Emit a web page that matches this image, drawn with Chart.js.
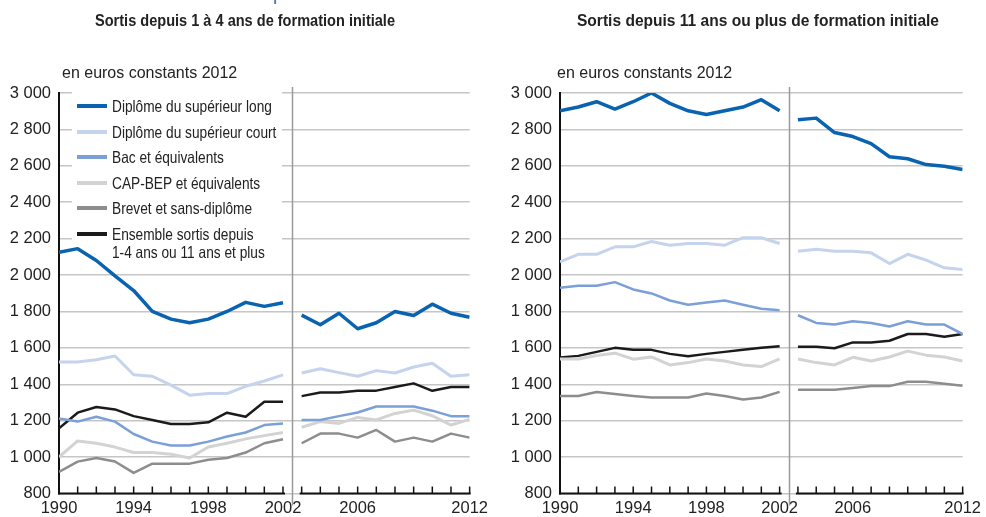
<!DOCTYPE html>
<html lang="fr">
<head>
<meta charset="UTF-8">
<title>Salaires selon le diplôme</title>
<script src="https://cdn.jsdelivr.net/npm/chart.js@4"></script>
<style>
    body {
        margin: 0;
        width: 986px;
        height: 517px;
        position: relative;
        overflow: hidden;
        background: #fff;
        font-family: "Liberation Sans", Arial, sans-serif;
        color: #222;
    }
    .panel { position: absolute; top: 0; width: 493px; height: 517px; }
    .cut-title {
        position: absolute; left: 0; top: 0; width: 322px; height: 8px;
        overflow: hidden;
    }
    .cut-title span {
        position: absolute; right: 0; top: -15px;
        font-size: 18px; line-height: 18px; white-space: nowrap; color: #1c6fb8;
    }
    .title {
        position: absolute; top: 12px; white-space: nowrap;
        font-weight: bold; font-size: 16px; color: #222;
        transform-origin: 0 0;
    }
    .unit {
        position: absolute; top: 64px; font-size: 16px; color: #222; white-space: nowrap;
    }
    .legend { position: absolute; left: 0; top: 0; font-size: 16.5px; color: #222; }
    .legend .sw { position: absolute; left: 77px; width: 30px; height: 3.5px; }
    .legend .lb {
        position: absolute; left: 112px; white-space: nowrap; line-height: 18px;
        transform: scaleX(0.83); transform-origin: 0 0;
    }
</style>
</head>
<body>
<div class="cut-title"><span>Salaire mensuel net médian selon le diplôme</span></div>

<div class="panel" style="left:0">
    <canvas id="chartLeft" width="493" height="517"></canvas>
</div>
<div class="panel" style="left:493px">
    <canvas id="chartRight" width="493" height="517"></canvas>
</div>

<div class="title" id="titleLeft" style="left:95px">Sortis depuis 1 à 4 ans de formation initiale</div>
<div class="title" id="titleRight" style="left:577px">Sortis depuis 11 ans ou plus de formation initiale</div>
<div class="unit" style="left:62px">en euros constants 2012</div>
<div class="unit" style="left:557px">en euros constants 2012</div>
<div class="legend" id="legend"></div>

<script>
// années et graduations
const years = [1990, 1991, 1992, 1993, 1994, 1995, 1996, 1997, 1998, 1999, 2000, 2001, 2002,
               2003, 2004, 2005, 2006, 2007, 2008, 2009, 2010, 2011, 2012];
const xTickLabels = [1990, 1994, 1998, 2002, 2006, 2012];
const breakYear = 2002.5; // rupture de série

const seriesNames = [
    'Diplôme du supérieur long',
    'Diplôme du supérieur court',
    'Bac et équivalents',
    'CAP-BEP et équivalents',
    'Brevet et sans-diplôme',
    'Ensemble sortis depuis\n1-4 ans ou 11 ans et plus'
];

// sortis depuis 1 à 4 ans
const supLong14   = [2125, 2145, 2080, 1995, 1915, 1800, 1758, 1738, 1758, 1800, 1850, 1828, 1848,
                     1780, 1727, 1790, 1705, 1738, 1800, 1778, 1840, 1790, 1768];
const supCourt14  = [1522, 1522, 1535, 1555, 1452, 1444, 1395, 1340, 1349, 1349, 1389, 1418, 1452,
                     1462, 1485, 1464, 1444, 1475, 1462, 1495, 1515, 1444, 1452];
const bac14       = [1212, 1195, 1222, 1195, 1127, 1085, 1064, 1064, 1085, 1113, 1135, 1176, 1185,
                     1204, 1204, 1225, 1245, 1278, 1278, 1278, 1255, 1225, 1225];
const cap14       = [1000, 1089, 1076, 1055, 1025, 1025, 1016, 995, 1055, 1076, 1100, 1118, 1135,
                     1164, 1195, 1185, 1218, 1204, 1240, 1258, 1227, 1176, 1207];
const brevet14    = [918, 975, 995, 976, 913, 964, 964, 964, 985, 995, 1025, 1076, 1098,
                     1076, 1129, 1129, 1107, 1149, 1085, 1107, 1085, 1129, 1107];
const ensemble14  = [1158, 1244, 1275, 1262, 1225, 1204, 1182, 1182, 1191, 1244, 1222, 1304, 1304,
                     1335, 1355, 1355, 1364, 1365, 1385, 1405, 1364, 1385, 1385];

// sortis depuis 11 ans ou plus
const supLong11   = [2902, 2923, 2952, 2912, 2952, 3000, 2943, 2902, 2882, 2902, 2923, 2963, 2902,
                     2853, 2862, 2783, 2761, 2722, 2650, 2639, 2607, 2598, 2580];
const supCourt11  = [2073, 2114, 2114, 2155, 2155, 2184, 2164, 2173, 2173, 2164, 2205, 2205, 2173,
                     2131, 2142, 2131, 2131, 2122, 2063, 2114, 2082, 2040, 2031];
const bac11       = [1930, 1941, 1941, 1961, 1921, 1899, 1860, 1837, 1849, 1860, 1837, 1815, 1806,
                     1779, 1737, 1728, 1746, 1737, 1717, 1746, 1728, 1728, 1676];
const cap11       = [1539, 1539, 1558, 1571, 1538, 1550, 1506, 1519, 1539, 1528, 1506, 1497, 1539,
                     1539, 1519, 1506, 1548, 1528, 1550, 1582, 1560, 1550, 1528];
const brevet11    = [1336, 1336, 1358, 1347, 1336, 1327, 1327, 1327, 1349, 1336, 1316, 1327, 1358,
                     1370, 1370, 1370, 1379, 1390, 1390, 1414, 1414, 1403, 1392];
const ensemble11  = [1547, 1556, 1578, 1600, 1589, 1589, 1567, 1554, 1567, 1578, 1589, 1600, 1609,
                     1606, 1606, 1598, 1630, 1630, 1639, 1676, 1676, 1661, 1676];

const colors = ['#0a63b0', '#c5d4ec', '#7b9fd7', '#d3d3d3', '#8d8d8d', '#1b1b1b'];
const widths = [3.5, 3, 2.5, 3, 2.5, 2.5];

const tickFont = { family: '"Liberation Sans", Arial, sans-serif', size: 16.5 };

function toPoints(vals) {
    const pts = [];
    years.forEach((yr, i) => {
        pts.push({ x: yr, y: vals[i] });
        if (yr === 2002) pts.push({ x: breakYear, y: null });
    });
    return pts;
}

function fmt(v) {
    if (v < 1000) return String(v);
    return Math.floor(v / 1000) + '\u00a0' + String(v % 1000).padStart(3, '0');
}

// fond blanc de la légende, trait de rupture et axe horizontal avec graduations
const decor = {
    id: 'decor',
    beforeDatasetsDraw(chart, args, opts) {
        if (!opts.legendBox) return;
        const ctx = chart.ctx;
        const b = opts.legendBox;
        ctx.save();
        ctx.fillStyle = '#fff';
        ctx.fillRect(b[0], b[1], b[2], b[3]);
        ctx.restore();
    },
    afterDraw(chart) {
        const ctx = chart.ctx;
        const xs = chart.scales.x;
        const area = chart.chartArea;
        const bx = Math.round(xs.getPixelForValue(breakYear)) + 0.5;
        ctx.save();
        ctx.strokeStyle = '#9a9a9a';
        ctx.lineWidth = 1.5;
        ctx.beginPath();
        ctx.moveTo(bx, area.top - 6);
        ctx.lineTo(bx, area.bottom + 12);
        ctx.stroke();

        ctx.strokeStyle = '#111';
        ctx.lineWidth = 2;
        ctx.beginPath();
        ctx.moveTo(xs.getPixelForValue(1990) - 1, area.bottom);
        ctx.lineTo(xs.getPixelForValue(2002) + 2, area.bottom);
        ctx.moveTo(xs.getPixelForValue(2003) - 2, area.bottom);
        ctx.lineTo(xs.getPixelForValue(2012) + 1, area.bottom);
        ctx.stroke();
        ctx.lineWidth = 1.5;
        ctx.beginPath();
        years.forEach(yr => {
            const px = xs.getPixelForValue(yr);
            ctx.moveTo(px, area.bottom);
            ctx.lineTo(px, area.bottom - 7);
        });
        ctx.stroke();
        ctx.restore();
    }
};

function makeChart(id, seriesList, axisWidth, padRight, legendBox) {
    const datasets = seriesList.map((vals, i) => ({
        label: seriesNames[i].replace('\n', ' '),
        data: toPoints(vals),
        borderColor: colors[i],
        borderWidth: widths[i],
        pointRadius: 0,
        tension: 0,
        spanGaps: false,
        borderJoinStyle: 'round'
    }));
    return new Chart(document.getElementById(id), {
        type: 'line',
        data: { datasets: datasets },
        plugins: [decor],
        options: {
            responsive: false,
            animation: false,
            layout: { padding: { top: 93, right: padRight, bottom: 0, left: 0 } },
            plugins: {
                legend: { display: false },
                tooltip: { enabled: false },
                decor: { legendBox: legendBox }
            },
            scales: {
                x: {
                    type: 'linear',
                    min: 1990,
                    max: 2012,
                    afterBuildTicks: s => { s.ticks = xTickLabels.map(v => ({ value: v })); },
                    grid: { display: false, drawTicks: false },
                    border: { display: false },
                    ticks: {
                        autoSkip: false, maxRotation: 0, padding: 5,
                        color: '#222', font: tickFont,
                        callback: v => String(v)
                    },
                    afterFit: s => { s.height = 23.5; }
                },
                y: {
                    min: 800,
                    max: 3000,
                    ticks: {
                        stepSize: 200, padding: 8, color: '#222', font: tickFont,
                        callback: v => fmt(v)
                    },
                    grid: { color: '#c6c6c6', lineWidth: 1.5, drawTicks: false },
                    border: { display: true, color: '#111', width: 2 },
                    afterFit: s => { s.width = axisWidth; }
                }
            }
        }
    });
}

makeChart('chartLeft', [supLong14, supCourt14, bac14, cap14, brevet14, ensemble14], 59, 20,
          [72, 86, 210, 178]);
makeChart('chartRight', [supLong11, supCourt11, bac11, cap11, brevet11, ensemble11], 67, 17, null);

// titres en police étroite : on comprime à la largeur voulue
function fitWidth(id, target) {
    const el = document.getElementById(id);
    const w = el.getBoundingClientRect().width;
    el.style.transform = 'scaleX(' + (target / w) + ')';
}
fitWidth('titleLeft', 300);
fitWidth('titleRight', 362);

// légende
const legendEl = document.getElementById('legend');
const rowY = [106, 132, 157, 183, 208, 234];
seriesNames.forEach((name, i) => {
    const sw = document.createElement('div');
    sw.className = 'sw';
    sw.style.top = (rowY[i] - 2) + 'px';
    sw.style.background = colors[i];
    legendEl.appendChild(sw);
    const lb = document.createElement('div');
    lb.className = 'lb';
    lb.style.top = (rowY[i] - 9) + 'px';
    lb.innerHTML = name.replace('\n', '<br>');
    legendEl.appendChild(lb);
});
</script>
</body>
</html>
